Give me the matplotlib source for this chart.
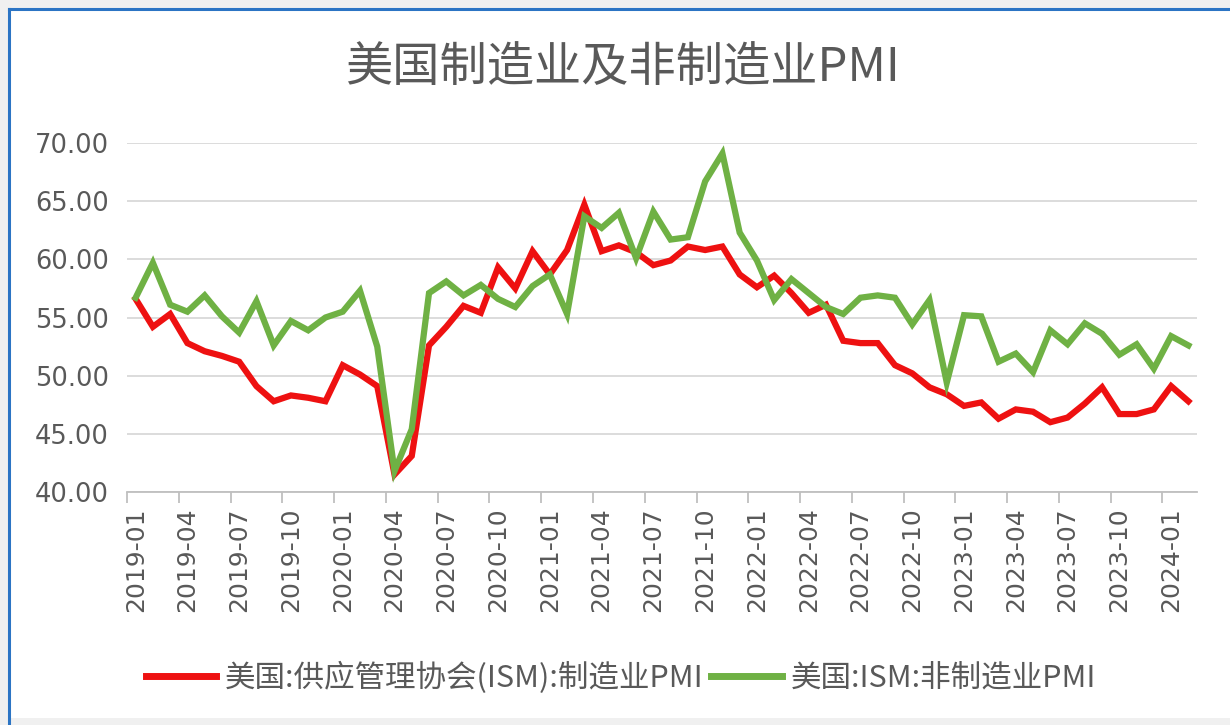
import numpy as np
import matplotlib
matplotlib.use("Agg")
import matplotlib.pyplot as plt
from matplotlib.lines import Line2D
from matplotlib.patches import Rectangle

plt.rcParams['font.family'] = ['Noto Sans CJK SC', 'DejaVu Sans']

title = "美国制造业及非制造业PMI"
mfg_label = "美国:供应管理协会(ISM):制造业PMI"
svc_label = "美国:ISM:非制造业PMI"

months = [f"{y}-{m:02d}" for y in range(2019, 2025) for m in range(1, 13)][:62]

mfg_pmi = [56.6, 54.2, 55.3, 52.8, 52.1, 51.7, 51.2, 49.1, 47.8, 48.3, 48.1, 47.8,
           50.9, 50.1, 49.1, 41.5, 43.1, 52.6, 54.2, 56.0, 55.4, 59.3, 57.5, 60.7,
           58.7, 60.8, 64.7, 60.7, 61.2, 60.6, 59.5, 59.9, 61.1, 60.8, 61.1, 58.7,
           57.6, 58.6, 57.1, 55.4, 56.1, 53.0, 52.8, 52.8, 50.9, 50.2, 49.0, 48.4,
           47.4, 47.7, 46.3, 47.1, 46.9, 46.0, 46.4, 47.6, 49.0, 46.7, 46.7, 47.1,
           49.1, 47.8]

svc_pmi = [56.7, 59.7, 56.1, 55.5, 56.9, 55.1, 53.7, 56.4, 52.6, 54.7, 53.9, 55.0,
           55.5, 57.3, 52.5, 41.8, 45.4, 57.1, 58.1, 56.9, 57.8, 56.6, 55.9, 57.7,
           58.7, 55.3, 63.7, 62.7, 64.0, 60.1, 64.1, 61.7, 61.9, 66.7, 69.1, 62.3,
           59.9, 56.5, 58.3, 57.1, 55.9, 55.3, 56.7, 56.9, 56.7, 54.4, 56.5, 49.4,
           55.2, 55.1, 51.2, 51.9, 50.3, 53.9, 52.7, 54.5, 53.6, 51.8, 52.7, 50.6,
           53.4, 52.6]

yticks = [40, 45, 50, 55, 60, 65, 70]

W, H = 1230, 725
fig = plt.figure(figsize=(W / 100, H / 100), dpi=100, facecolor='#f0f0f0')

# chart area with blue frame on left/top
fig.patches.append(Rectangle((10 / W, 7 / H), 1.0, (H - 17) / H, transform=fig.transFigure,
                             facecolor='white', edgecolor='none', zorder=-10))
fig.lines.append(Line2D([9 / W, 9 / W], [0, 1 - 9 / H], transform=fig.transFigure,
                        color='#2b74c4', lw=2.2, zorder=-5))
fig.lines.append(Line2D([9 / W, 1], [1 - 9 / H, 1 - 9 / H], transform=fig.transFigure,
                        color='#2b74c4', lw=2.2, zorder=-5))

ax = fig.add_axes([127 / W, 1 - 492 / H, (1197 - 127) / W, (492 - 143) / H])
ax.set_facecolor('none')

x = np.arange(len(months))
ax.plot(x, mfg_pmi, color='#ee1111', lw=4.5, solid_joinstyle='miter', zorder=3)
ax.plot(x, svc_pmi, color='#6fb144', lw=4.5, solid_joinstyle='miter', zorder=3)

ax.set_xlim(-0.5, len(months) - 0.5)
ax.set_ylim(40, 70)
ax.set_yticks(yticks)
ax.set_yticklabels([f"{v:.2f}" for v in yticks], fontsize=18.5, color='#595959',
                   family=['DejaVu Sans'])
ax.tick_params(axis='y', length=0, pad=13)
ax.grid(axis='y', color='#d9d9d9', lw=1.3)
ax.set_axisbelow(True)

ax.set_xticks(x[::3])
ax.set_xticklabels(months[::3], rotation=90, fontsize=18, color='#595959',
                   family=['DejaVu Sans'])
ax.set_xticks(np.arange(-0.5, len(months), 3), minor=True)
ax.tick_params(axis='x', which='major', length=0, pad=11)
ax.tick_params(axis='x', which='minor', length=8, color='#bfbfbf', width=1.3)

for side in ['top', 'right', 'left']:
    ax.spines[side].set_visible(False)
ax.spines['bottom'].set_color('#bfbfbf')
ax.spines['bottom'].set_linewidth(1.3)

fig.text(622 / W, 1 - 68 / H, title, ha='center', va='center', fontsize=34, color='#595959')

handles = [Line2D([], [], color='#ee1111', lw=5), Line2D([], [], color='#6fb144', lw=5)]
fig.legend(handles, [mfg_label, svc_label], loc='center', bbox_to_anchor=(621 / W, 1 - 678 / H),
           ncol=2, frameon=False, fontsize=22, handlelength=2.3, handletextpad=0.3,
           columnspacing=0.25, labelcolor='#595959')

fig.savefig("out.png", dpi=100, facecolor=fig.get_facecolor())
